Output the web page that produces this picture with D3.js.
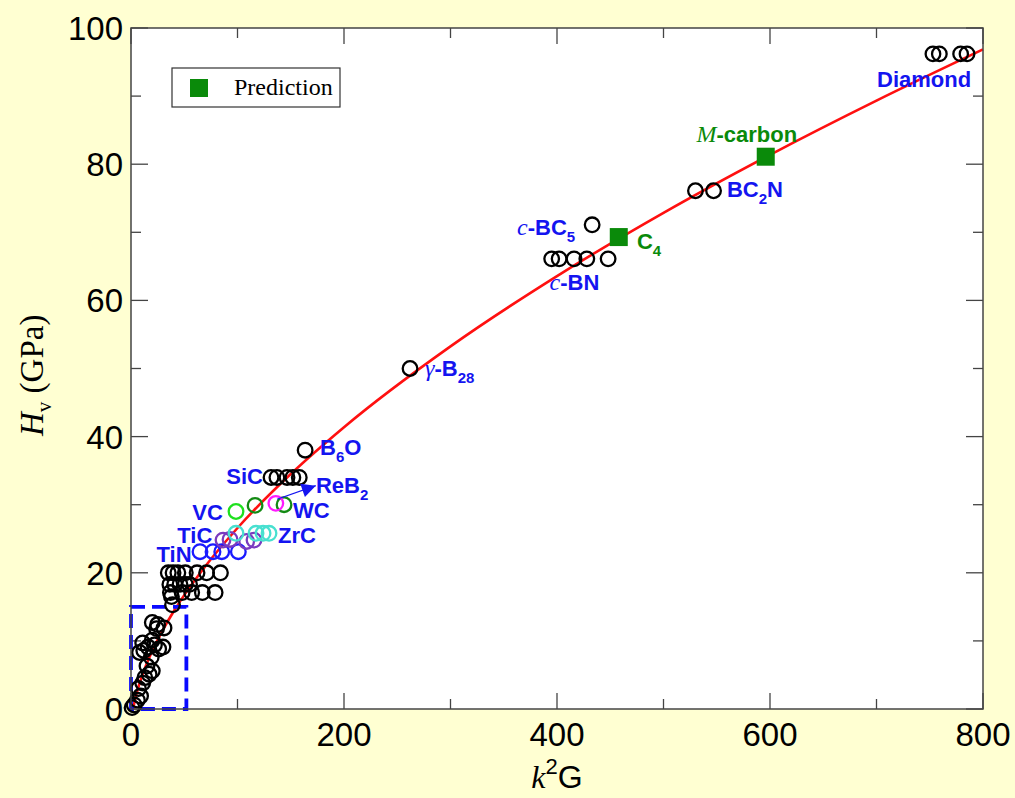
<!DOCTYPE html>
<html>
<head>
<meta charset="utf-8">
<script src="https://cdn.jsdelivr.net/npm/d3@7"></script>
<style>
  body { margin: 0; background: #ffffd2; }
  svg { display: block; }
  .lbl { font-family: "Liberation Sans", Arial, sans-serif; font-weight: bold; font-size: 22px; }
  .it { font-family: "Liberation Serif", "Times New Roman", serif; font-style: italic; font-weight: normal; }
</style>
</head>
<body>
<div id="container"></div>
<script>
/* CONSTANTS AND GLOBALS */
const width = 1015,
      height = 798,
      margin = { top: 28, bottom: 89, left: 131, right: 32 };

/* DATA (k^2 G, Hv in GPa) */
const xTicks = [0, 200, 400, 600, 800];
const yTicks = [0, 20, 40, 60, 80, 100];

// measured materials, black open circles
const blackPts = [
  [1, 0.2], [3, 0.6], [6, 1.3], [9, 1.9], [7, 3.0], [11, 3.8], [13, 4.6], [17, 5.1],
  [20, 5.6], [15, 6.3], [19, 7.6], [8, 8.3], [12, 8.6], [16, 9.1], [22, 9.4], [26, 8.8],
  [30, 9.1], [11, 9.7], [20, 10.1], [24, 11.8], [20, 12.7], [25, 12.4], [31, 11.9],
  [39, 15.3], [38, 16.5],
  [35, 20], [39.5, 20], [44, 20], [51, 20], [62, 20], [71, 20], [84, 20],
  [36.5, 18.3], [41, 18.3], [46, 18.3], [51, 18.3], [55, 18.3],
  [37, 17.1], [48, 17.1], [57, 17.1], [67, 17.1], [79, 17.1],
  [131.5, 34], [137, 34], [146.5, 34], [152, 34], [158, 34],
  [163.5, 38], [262, 50],
  [395, 66.1], [402, 66.1], [416, 66.1], [428, 66.1], [448, 66.1],
  [433, 71.1],
  [530, 76.1], [547, 76.1],
  [753, 96.2], [759, 96.2], [779, 96.2], [785, 96.2]
];

// coloured carbides / nitrides
const vcPts = [[98.6, 29.0]];
const wcPts = [[116.5, 29.9], [143.7, 30.0]];
const reb2Pts = [[136, 30.2]];
const zrcPts = [[98.6, 25.8], [117.4, 25.8], [124, 25.8], [129.6, 25.8]];
const ticPts = [[86.4, 24.8], [93, 24.9], [108.6, 24.6], [115.5, 24.8]];
const tinPts = [[64.8, 23.1], [77, 23.1], [85.2, 23.1], [100.8, 23.1]];

// predicted phases, green squares
const predPts = [[458, 69.3], [596, 81.1]];

const fitX = [2, 3, 5, 10, 20, 30, 40, 50, 70, 100, 150, 200, 300, 400, 500, 600, 700, 800];
const fitY = [0, 0.8, 2.13, 4.69, 8.54, 11.63, 14.31, 16.72, 21.01, 26.58, 34.5, 41.38, 53.25, 63.57, 72.86, 81.38, 89.34, 96.86];

// dashed zoom box corners
const boxX = [0, 52];
const boxY = [0, 15];

// labels; parts: [text, kind] kind = n normal, i italic, s subscript
const labels = [
  { x: 700.5, y: 91.3, c: "#1414f0", parts: [["Diamond", "n"]] },
  { x: 531.0, y: 83.3, c: "#0a8a0a", parts: [["M", "i"], ["-carbon", "n"]] },
  { x: 559.6, y: 75.2, c: "#1414f0", parts: [["BC", "n"], ["2", "s"], ["N", "n"]] },
  { x: 475.1, y: 67.5, c: "#0a8a0a", parts: [["C", "n"], ["4", "s"]] },
  { x: 362.5, y: 69.6, c: "#1414f0", parts: [["c", "i"], ["-BC", "n"], ["5", "s"]] },
  { x: 393.0, y: 61.5, c: "#1414f0", parts: [["c", "i"], ["-BN", "n"]] },
  { x: 276.1, y: 48.9, c: "#1414f0", parts: [["γ", "i"], ["-B", "n"], ["28", "s"]] },
  { x: 177.5, y: 37.3, c: "#1414f0", parts: [["B", "n"], ["6", "s"], ["O", "n"]] },
  { x: 89.5, y: 33.0, c: "#1414f0", parts: [["SiC", "n"]] },
  { x: 173.7, y: 31.7, c: "#1414f0", parts: [["ReB", "n"], ["2", "s"]] },
  { x: 152.1, y: 28.0, c: "#1414f0", parts: [["WC", "n"]] },
  { x: 57.5, y: 27.8, c: "#1414f0", parts: [["VC", "n"]] },
  { x: 43.5, y: 24.4, c: "#1414f0", parts: [["TiC", "n"]] },
  { x: 138.0, y: 24.4, c: "#1414f0", parts: [["ZrC", "n"]] },
  { x: 24.0, y: 21.6, c: "#1414f0", parts: [["TiN", "n"]] }
];

// ReB2 arrow: from circle to label
const arrowFrom = [137.1, 30.8];
const arrowTo = [173.5, 32.8];

/* SCALES */
const xScale = d3.scaleLinear()
  .domain([0, 800])
  .range([margin.left, width - margin.right]);

const yScale = d3.scaleLinear()
  .domain([0, 100])
  .range([height - margin.bottom, margin.top]);

/* SVG SETUP */
const svg = d3.select("#container").append("svg")
  .attr("width", width)
  .attr("height", height);

svg.append("rect")
  .attr("width", width).attr("height", height)
  .attr("fill", "#ffffd2");

svg.append("rect")
  .attr("x", xScale(0)).attr("y", yScale(100))
  .attr("width", xScale(800) - xScale(0))
  .attr("height", yScale(0) - yScale(100))
  .attr("fill", "white");

svg.append("defs").append("marker")
  .attr("id", "head")
  .attr("viewBox", "0 0 10 10")
  .attr("refX", 10).attr("refY", 5)
  .attr("markerWidth", 20).attr("markerHeight", 14)
  .attr("markerUnits", "userSpaceOnUse")
  .attr("orient", "auto")
  .append("path")
  .attr("d", "M0,0 L10,5 L0,10 Z")
  .attr("fill", "#1414f0");

/* AXES - ticks inward on all four sides */
const axisG = svg.append("g").attr("class", "axes");
const tickFont = "\"Liberation Sans\", Arial, sans-serif";

d3.range(0, 801, 100).forEach(v => {
  const len = v % 200 === 0 ? 16 : 10;
  [yScale(0), yScale(100)].forEach((y0, i) => {
    axisG.append("line")
      .attr("x1", xScale(v)).attr("x2", xScale(v))
      .attr("y1", y0).attr("y2", i === 0 ? y0 - len : y0 + len)
      .attr("stroke", "#444").attr("stroke-width", 1.3);
  });
});
d3.range(0, 101, 10).forEach(v => {
  const len = v % 20 === 0 ? 17 : 10;
  [xScale(0), xScale(800)].forEach((x0, i) => {
    axisG.append("line")
      .attr("y1", yScale(v)).attr("y2", yScale(v))
      .attr("x1", x0).attr("x2", i === 0 ? x0 + len : x0 - len)
      .attr("stroke", "#444").attr("stroke-width", 1.3);
  });
});

axisG.selectAll(".xt").data(xTicks).enter().append("text")
  .attr("class", "xt")
  .attr("x", d => xScale(d))
  .attr("y", yScale(0) + 37)
  .attr("text-anchor", "middle")
  .attr("font-family", tickFont)
  .attr("font-size", 33)
  .text(d => d);

axisG.selectAll(".yt").data(yTicks).enter().append("text")
  .attr("class", "yt")
  .attr("x", xScale(0) - 8)
  .attr("y", d => yScale(d) + 12)
  .attr("text-anchor", "end")
  .attr("font-family", tickFont)
  .attr("font-size", 33)
  .text(d => d);

// axis titles
const xTitle = svg.append("text")
  .attr("x", (xScale(0) + xScale(800)) / 2)
  .attr("y", 788)
  .attr("text-anchor", "middle")
  .attr("font-size", 32);
xTitle.append("tspan").attr("font-family", "\"Liberation Serif\", serif").attr("font-style", "italic").text("k");
xTitle.append("tspan").attr("font-family", tickFont).attr("font-size", 22).attr("dy", -14).text("2");
xTitle.append("tspan").attr("font-family", tickFont).attr("dy", 14).text("G");

const yTitle = svg.append("text")
  .attr("transform", `translate(43,${yScale(49)}) rotate(-90)`)
  .attr("text-anchor", "middle")
  .attr("font-family", "\"Liberation Serif\", serif")
  .attr("font-size", 33);
yTitle.append("tspan").attr("font-style", "italic").text("H");
yTitle.append("tspan").attr("font-size", 21).attr("dy", 8).text("v");
yTitle.append("tspan").attr("dy", -8).text(" (GPa)");

/* FIT CURVE */
const line = d3.line()
  .x(d => xScale(d[0]))
  .y(d => yScale(d[1]))
  .curve(d3.curveMonotoneX);

svg.append("path")
  .datum(fitX.map((x, i) => [x, fitY[i]]))
  .attr("d", line)
  .attr("fill", "none")
  .attr("stroke", "#ff1010")
  .attr("stroke-width", 2.6);

/* DASHED BOX */
svg.append("rect")
  .attr("x", xScale(boxX[0]))
  .attr("y", yScale(boxY[1]))
  .attr("width", xScale(boxX[1]) - xScale(boxX[0]))
  .attr("height", yScale(boxY[0]) - yScale(boxY[1]))
  .attr("fill", "none")
  .attr("stroke", "#0a0aff")
  .attr("stroke-width", 3.8)
  .attr("stroke-dasharray", "14,7");

/* CIRCLES */
function drawCircles(pts, color) {
  svg.append("g").selectAll("circle")
    .data(pts)
    .enter()
    .append("circle")
      .attr("cx", d => xScale(d[0]))
      .attr("cy", d => yScale(d[1]))
      .attr("r", 7.3)
      .attr("fill", "none")
      .attr("stroke", color)
      .attr("stroke-width", 2.3);
}
drawCircles(blackPts, "black");
drawCircles(tinPts, "#1a1aff");
drawCircles(ticPts, "#7a3bbf");
drawCircles(zrcPts, "#48e0d0");
drawCircles(vcPts, "#1ee01e");
drawCircles(wcPts, "#138a13");
drawCircles(reb2Pts, "#ff1aff");

/* ARROW */
svg.append("line")
  .attr("x1", xScale(arrowFrom[0])).attr("y1", yScale(arrowFrom[1]))
  .attr("x2", xScale(arrowTo[0])).attr("y2", yScale(arrowTo[1]))
  .attr("stroke", "#1414f0")
  .attr("stroke-width", 1.2)
  .attr("marker-end", "url(#head)");

/* PREDICTIONS */
svg.append("g").selectAll("rect")
  .data(predPts)
  .enter()
  .append("rect")
    .attr("x", d => xScale(d[0]) - 9)
    .attr("y", d => yScale(d[1]) - 9)
    .attr("width", 18)
    .attr("height", 18)
    .attr("fill", "#0a8a0a");

/* LABELS */
labels.forEach(l => {
  const t = svg.append("text")
    .attr("class", "lbl")
    .attr("x", xScale(l.x))
    .attr("y", yScale(l.y))
    .attr("fill", l.c);
  let sub = false;
  l.parts.forEach(p => {
    const ts = t.append("tspan").text(p[0]);
    if (p[1] === "i") ts.attr("class", "it").attr("font-size", 24);
    if (p[1] === "s") { ts.attr("font-size", 15).attr("dy", 7); sub = true; }
    else if (sub) { ts.attr("dy", -7); sub = false; }
  });
});

/* FRAME */
svg.append("rect")
  .attr("x", xScale(0)).attr("y", yScale(100))
  .attr("width", xScale(800) - xScale(0))
  .attr("height", yScale(0) - yScale(100))
  .attr("fill", "none")
  .attr("stroke", "#444")
  .attr("stroke-width", 1.5);

/* LEGEND */
const legend = svg.append("g").attr("transform", "translate(172,68)");
legend.append("rect")
  .attr("width", 168).attr("height", 39)
  .attr("fill", "white")
  .attr("stroke", "#333")
  .attr("stroke-width", 1.2);
legend.append("rect")
  .attr("x", 18).attr("y", 11)
  .attr("width", 18).attr("height", 18)
  .attr("fill", "#0a8a0a");
legend.append("text")
  .attr("x", 62).attr("y", 27)
  .attr("font-family", "\"Liberation Serif\", serif")
  .attr("font-size", 24)
  .text("Prediction");
</script>
</body>
</html>
